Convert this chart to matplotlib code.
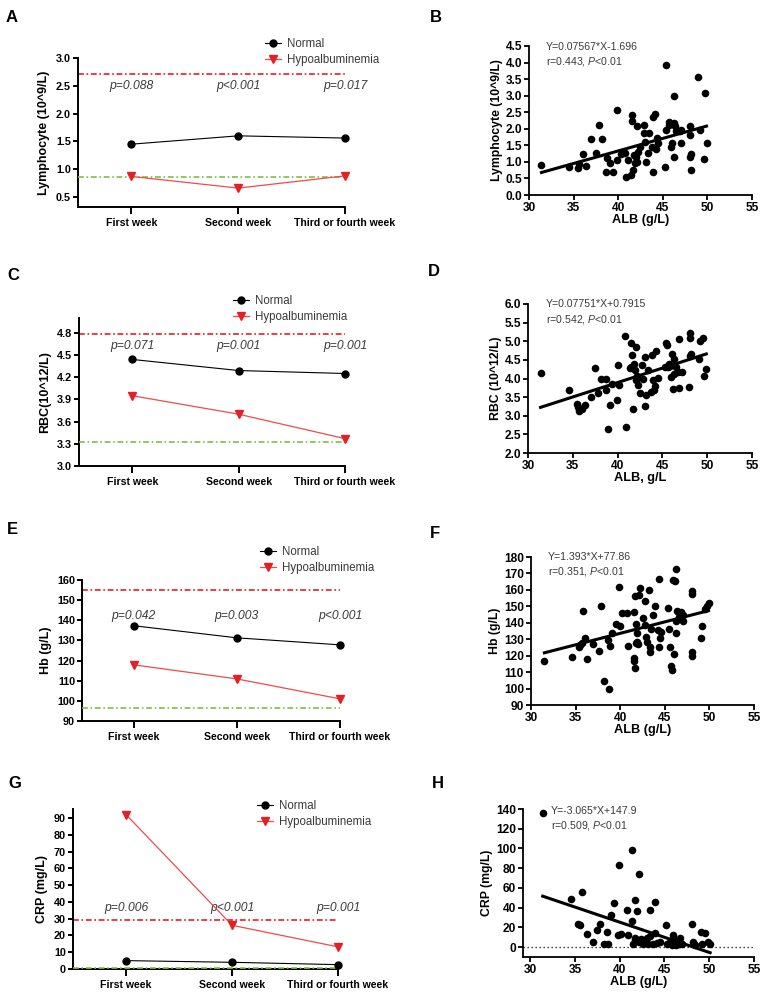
import numpy as np
import matplotlib
matplotlib.use('Agg')
import matplotlib.pyplot as plt

plt.rcParams['font.family'] = ['Liberation Sans', 'DejaVu Sans']
plt.rcParams['mathtext.fontset'] = 'custom'
plt.rcParams['mathtext.rm'] = 'Liberation Sans'
plt.rcParams['mathtext.it'] = 'Liberation Sans:italic'

W, H = 762, 992

# ---- line panels (A, C, E, G) ----
weeks = ['First week', 'Second week', 'Third or fourth week']

lym_normal = [1.45, 1.60, 1.56]
lym_hypo = [0.87, 0.66, 0.88]
lym_ref = [2.71, 0.86]
lym_p = ['p=0.088', 'p<0.001', 'p=0.017']

rbc_normal = [4.44, 4.29, 4.25]
rbc_hypo = [3.95, 3.70, 3.37]
rbc_ref = [4.79, 3.33]
rbc_p = ['p=0.071', 'p=0.001', 'p=0.001']

hb_normal = [137.3, 131.3, 127.8]
hb_hypo = [117.9, 110.9, 101.0]
hb_ref = [155.0, 96.5]
hb_p = ['p=0.042', 'p=0.003', 'p<0.001']

crp_normal = [5.0, 4.0, 2.6]
crp_hypo = [92.2, 26.1, 13.2]
crp_ref = [29.0, 0.4]
crp_p = ['p=0.006', 'p<0.001', 'p=0.001']

# ---- scatter panels (B, D, F, H) ----
alb_b = [31.4, 34.5, 35.5, 35.6, 36.0, 36.4, 37.0, 37.5, 37.8, 38.2, 38.6, 38.8, 39.1, 39.4,
         39.9, 39.9, 40.3, 40.8, 40.9, 41.4, 41.5, 41.6, 41.7, 41.8, 41.9, 42.1, 42.1, 42.0,
         42.4, 42.9, 42.9, 43.0, 43.1, 43.3, 43.4, 43.9, 44.1, 43.9, 43.8, 44.2, 44.5, 44.4,
         45.2, 45.4, 45.4, 45.7, 45.7, 45.9, 46.0, 46.2, 46.2, 46.3, 46.4, 46.5, 46.9, 47.0,
         48.0, 48.1, 48.2, 48.1, 48.2, 49.0, 49.2, 49.6, 49.7, 49.9, 47.0, 41.1, 42.2]
lym_b = [0.91, 0.84, 0.81, 0.94, 1.23, 0.89, 1.68, 1.26, 2.12, 1.68, 0.69, 1.11, 0.96, 0.69,
         2.57, 1.06, 1.24, 1.28, 0.55, 0.60, 2.42, 2.25, 0.76, 1.21, 0.96, 1.01, 2.07, 1.16,
         1.46, 2.12, 1.86, 1.61, 1.01, 1.26, 1.86, 2.35, 2.44, 0.68, 1.46, 1.40, 1.56, 1.71,
         0.86, 3.93, 1.95, 2.19, 2.12, 1.46, 1.56, 1.14, 2.99, 2.17, 2.09, 1.92, 1.92, 1.56,
         2.07, 1.81, 1.24, 1.16, 0.76, 3.55, 1.97, 1.08, 3.09, 1.58, 1.95, 1.06, 1.31]

alb_d = [31.4, 34.6, 35.5, 35.6, 36.0, 35.7, 36.4, 37.0, 37.5, 37.8, 38.2, 38.7, 38.7, 38.9,
         39.1, 39.4, 39.9, 40.0, 40.2, 40.8, 40.9, 41.5, 41.6, 41.7, 41.4, 41.5, 41.8, 41.9,
         42.0, 42.1, 42.2, 42.3, 42.5, 42.7, 42.8, 43.1, 43.1, 43.2, 43.4, 43.7, 43.8, 44.0,
         44.1, 44.2, 44.3, 44.5, 45.3, 45.4, 45.5, 45.7, 45.8, 46.0, 46.1, 46.2, 46.3, 46.3,
         46.5, 46.7, 46.9, 46.9, 47.2, 48.0, 48.1, 48.1, 48.2, 48.1, 49.1, 49.2, 49.5, 49.6,
         49.9, 45.6]
rbc_d = [4.16, 3.69, 3.32, 3.23, 3.19, 3.12, 3.28, 3.49, 4.28, 3.61, 4.00, 4.00, 3.70, 2.65,
         3.30, 3.84, 3.41, 4.37, 3.82, 5.15, 2.71, 4.94, 4.62, 3.19, 4.27, 4.31, 4.40, 4.24,
         4.85, 3.95, 4.06, 3.82, 3.61, 4.35, 4.00, 4.58, 3.26, 3.57, 4.22, 3.64, 4.62, 3.95,
         3.70, 3.80, 4.73, 4.02, 4.31, 4.96, 4.91, 4.38, 4.33, 4.04, 4.67, 3.72, 4.53, 4.13,
         4.31, 4.18, 5.05, 3.74, 4.18, 3.77, 5.23, 5.10, 4.67, 4.60, 4.53, 5.01, 5.08, 4.08,
         4.25, 4.31]

alb_f = [31.5, 34.6, 35.4, 35.5, 35.7, 35.8, 36.1, 36.3, 37.0, 37.6, 37.9, 38.2, 38.8, 38.6,
         38.9, 39.1, 39.5, 39.9, 40.0, 40.2, 40.8, 40.9, 41.5, 41.5, 41.6, 41.7, 41.7, 41.8,
         41.9, 42.0, 41.8, 41.9, 42.1, 42.2, 42.5, 42.8, 42.8, 42.9, 43.0, 43.2, 43.3, 43.3,
         43.5, 43.7, 43.9, 44.2, 44.3, 44.4, 44.5, 44.6, 45.4, 45.5, 45.6, 45.7, 45.8, 45.9,
         46.0, 46.1, 46.2, 46.2, 46.3, 46.4, 46.6, 46.8, 47.0, 47.0, 48.0, 48.1, 48.0, 48.1,
         49.1, 49.2, 49.5, 49.7, 49.9]
hb_f = [116.7, 118.9, 125.4, 126.4, 128.0, 147.0, 131.0, 117.7, 127.2, 123.0, 149.9, 104.8,
        99.9, 129.8, 126.0, 134.0, 139.0, 161.8, 137.9, 146.0, 146.0, 126.0, 146.6, 118.3,
        116.9, 112.8, 156.1, 127.4, 128.4, 126.8, 139.0, 133.9, 157.1, 161.2, 143.0, 153.1,
        138.5, 131.5, 128.4, 159.8, 125.0, 122.0, 136.5, 144.8, 150.0, 135.5, 166.9, 125.4,
        130.9, 134.5, 149.0, 136.5, 125.0, 113.9, 111.0, 166.2, 120.9, 165.2, 172.9, 133.9,
        141.0, 147.0, 143.6, 146.6, 141.0, 144.6, 159.2, 157.3, 122.4, 119.9, 130.9, 137.9,
        148.6, 150.0, 152.1]

alb_h = [31.4, 34.6, 35.8, 35.3, 35.6, 36.3, 37.0, 37.5, 37.8, 38.3, 38.6, 38.7, 39.0, 39.4,
         39.8, 39.9, 40.2, 40.8, 40.9, 41.4, 41.4, 41.5, 41.7, 41.7, 41.7, 41.9, 42.1, 42.2,
         42.4, 42.6, 42.9, 43.1, 43.2, 43.4, 43.4, 43.7, 43.9, 43.9, 44.2, 44.5, 45.2, 45.3,
         45.6, 45.8, 45.9, 46.0, 46.2, 46.3, 46.5, 46.6, 46.7, 47.0, 48.1, 48.2, 48.3, 48.4,
         49.1, 49.5, 49.2, 49.9, 50.1]
crp_h = [136, 48.4, 55.8, 23, 22.3, 13.5, 4.7, 17.2, 23, 3, 14.9, 2.7, 32.5, 44.6, 12.2,
         82.9, 12.9, 37.5, 12.5, 98.4, 26.4, 3, 7.1, 9.5, 47.7, 36.9, 73.7, 4.7, 7.8, 3, 5.4,
         9.1, 3, 37.5, 11.2, 3, 46, 14.5, 3.7, 5, 22, 3, 5.4, 2.4, 12.2, 8.5, 4.7, 2.4, 5.7,
         3, 9.5, 3, 23.7, 5.4, 3, 2.4, 14.9, 13.9, 3, 5.4, 3]

# regression fits printed on the chart
fit_b = (0.07567, -1.696)
fit_d = (0.07751, 0.7915)
fit_f = (1.393, 77.86)
fit_h = (-3.065, 147.9)

RED = '#e61e25'
RED_LINE = '#f04a4a'
GREEN = '#7dc242'
GREY = '#3a3a3a'

fig = plt.figure(figsize=(W / 100, H / 100), dpi=100)


def px_rect(left, top, right, bottom):
    return [left / W, 1 - bottom / H, (right - left) / W, (bottom - top) / H]


def letter(x, y, s):
    fig.text(x / W, 1 - y / H, s, fontsize=12, fontweight='bold', ha='left', va='center')


def bold_ticks(ax):
    for lab in ax.get_xticklabels() + ax.get_yticklabels():
        lab.set_fontweight('bold')


def line_panel(rect, normal, hypo, ref, ptxt, p_y, ylim, yticks, fmt, ylabel, leg_xy):
    ax = fig.add_axes(px_rect(*rect))
    x = np.arange(len(weeks))
    ax.axhline(ref[0], color=RED, lw=1.2, dashes=(3.5, 1.6, 1.0, 1.6), zorder=2)
    ax.axhline(ref[1], color=GREEN, lw=1.2, dashes=(3.5, 1.6, 1.0, 1.6), zorder=4, clip_on=False)
    ax.plot(x, normal, color='black', lw=0.8, marker='o', ms=5, label='Normal',
            clip_on=False, zorder=5)
    ax.plot(x, hypo, color=RED_LINE, lw=0.9, marker='v', ms=5.5, mfc=RED, mec=RED,
            label='Hypoalbuminemia', clip_on=False, zorder=5)
    for i, t in enumerate(ptxt):
        ax.text(i, p_y, t, ha='center', va='center', style='italic', fontsize=8.7, color=GREY)
    ax.set_xlim(-0.5, 2)
    ax.set_ylim(*ylim)
    ax.set_xticks(x)
    ax.set_xticklabels(weeks)
    ax.set_yticks(yticks)
    ax.set_yticklabels([fmt % v for v in yticks])
    for s in ['top', 'right']:
        ax.spines[s].set_visible(False)
    for s in ['left', 'bottom']:
        ax.spines[s].set_linewidth(1.4)
    ax.tick_params(axis='x', length=5, width=1.4, labelsize=7.6, pad=3)
    ax.tick_params(axis='y', length=3.5, width=1.4, labelsize=7.8, pad=1.5)
    bold_ticks(ax)
    ax.set_ylabel(ylabel, fontsize=9, fontweight='bold', labelpad=4)
    ax.legend(loc='center left', bbox_to_anchor=(leg_xy[0] / W, 1 - leg_xy[1] / H),
              bbox_transform=fig.transFigure, frameon=False, fontsize=8.3,
              handlelength=1.35, handletextpad=0.6, labelspacing=0.3, borderpad=0,
              borderaxespad=0, labelcolor=GREY)
    return ax


def scatter_panel(rect, xs, ys, fit, xlim, ylim, yticks, fmt, ylabel, xlabel, eq_xy, eq, rtxt):
    ax = fig.add_axes(px_rect(*rect))
    ax.scatter(xs, ys, s=30, color='black', linewidths=0, zorder=3, clip_on=False)
    xx = np.array([min(xs), max(xs)])
    ax.plot(xx, fit[0] * xx + fit[1], color='black', lw=2.2, zorder=4)
    ax.set_xlim(*xlim)
    ax.set_ylim(*ylim)
    ax.set_xticks([30, 35, 40, 45, 50, 55])
    ax.set_yticks(yticks)
    ax.set_yticklabels([fmt % v for v in yticks])
    for s in ['top', 'right']:
        ax.spines[s].set_visible(False)
    for s in ['left', 'bottom']:
        ax.spines[s].set_linewidth(1.3)
    ax.tick_params(axis='both', length=3.5, width=1.3, labelsize=8.6, pad=1.5)
    bold_ticks(ax)
    ax.set_ylabel(ylabel, fontsize=8.8, fontweight='bold', labelpad=2)
    ax.set_xlabel(xlabel, fontsize=9.2, fontweight='bold', labelpad=0)
    fig.text(eq_xy[0] / W, 1 - eq_xy[1] / H, eq, fontsize=7.6, color=GREY, va='center')
    fig.text(eq_xy[0] / W, 1 - (eq_xy[1] + 15) / H, rtxt, fontsize=7.6, color=GREY, va='center')
    return ax


# A
line_panel((78, 58, 345, 207), lym_normal, lym_hypo, lym_ref, lym_p, 2.49, (0.32, 3.0),
           [0.5, 1.0, 1.5, 2.0, 2.5, 3.0], '%.1f', 'Lymphocyte (10^9/L)', (265, 52))
letter(6, 17, 'A')

# C
line_panel((79, 318, 345, 466), rbc_normal, rbc_hypo, rbc_ref, rbc_p, 4.62, (3.0, 5.0),
           [3.0, 3.3, 3.6, 3.9, 4.2, 4.5, 4.8], '%.1f', 'RBC(10^12/L)', (233, 309))
letter(7, 276, 'C')

# E
line_panel((82, 580, 340, 721), hb_normal, hb_hypo, hb_ref, hb_p, 142.2, (90, 160),
           list(range(90, 161, 10)), '%d', 'Hb (g/L)', (260, 560))
letter(7, 530, 'E')

# G
axg = line_panel((73, 809, 338, 969), crp_normal, crp_hypo, crp_ref, crp_p, 36.5, (0, 95.5),
                 list(range(0, 91, 10)), '%d', 'CRP (mg/L)', (257, 814))
letter(8, 783, 'G')

# B
scatter_panel((529, 46, 752, 195), alb_b, lym_b, fit_b, (30, 55), (0, 4.5),
              [0.0, 0.5, 1.0, 1.5, 2.0, 2.5, 3.0, 3.5, 4.0, 4.5], '%.1f',
              'Lymphocyte (10^9/L)', 'ALB (g/L)', (546, 47),
              'Y=0.07567*X-1.696', r'r=0.443, $\mathit{P}$<0.01')
letter(430, 18, 'B')

# D
scatter_panel((528, 304, 752, 453), alb_d, rbc_d, fit_d, (30, 55), (2.0, 6.0),
              [2.0, 2.5, 3.0, 3.5, 4.0, 4.5, 5.0, 5.5, 6.0], '%.1f',
              'RBC (10^12/L)', 'ALB, g/L', (546, 304),
              'Y=0.07751*X+0.7915', r'r=0.542, $\mathit{P}$<0.01')
letter(428, 272, 'D')

# F
scatter_panel((531, 557, 754, 705), alb_f, hb_f, fit_f, (30, 55), (90, 180),
              list(range(90, 181, 10)), '%d',
              'Hb (g/L)', 'ALB (g/L)', (548, 557),
              'Y=1.393*X+77.86', r'r=0.351, $\mathit{P}$<0.01')
letter(430, 533, 'F')

# H
axh = scatter_panel((523, 809, 754, 957), alb_h, crp_h, fit_h, (29.2, 55), (-10, 140),
                    list(range(0, 141, 20)), '%d',
                    'CRP (mg/L)', 'ALB (g/L)', (551, 811),
                    'Y=-3.065*X+147.9', r'r=0.509, $\mathit{P}$<0.01')
axh.axhline(0, color='black', lw=0.9, ls=(0, (1, 2.2)), zorder=1)
letter(432, 783, 'H')

fig.savefig('out.png', dpi=100)
